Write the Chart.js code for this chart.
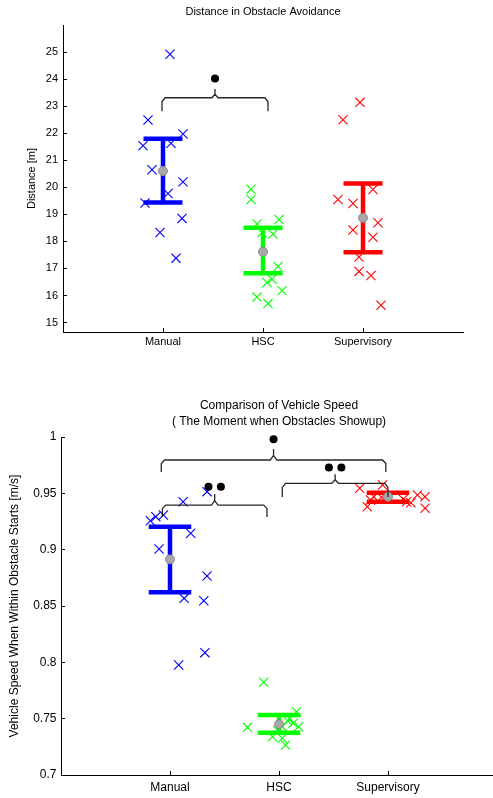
<!DOCTYPE html>
<html>
<head>
<meta charset="utf-8">
<script src="https://cdn.jsdelivr.net/npm/chart.js@4.4.0/dist/chart.umd.min.js"></script>
<style>
  html, body { margin: 0; padding: 0; background: #fff; overflow: hidden; width: 493px; height: 798px; }
  #wrapTop { position: absolute; left: 0; top: 0; }
  #wrapBottom { position: absolute; left: 0; top: 380px; }
</style>
</head>
<body>
<div id="wrapTop"><canvas id="distChart" width="493" height="360"></canvas></div>
<div id="wrapBottom"><canvas id="speedChart" width="510" height="418"></canvas></div>
<script>
// --- shared ---
const groups = ['Manual', 'HSC', 'Supervisory'];
const groupColors = ['#0000ff', '#00ff00', '#ff0000'];
const groupPos = [1, 2, 3];

// --- Distance in Obstacle Avoidance ---
const distManualX = [1.07, 0.85, 1.20, 0.80, 1.08, 0.89, 1.20, 1.05, 0.82, 1.19, 0.97, 1.13];
const distManualY = [24.92, 22.49, 21.97, 21.54, 21.63, 20.65, 20.20, 19.77, 19.42, 18.85, 18.33, 17.38];
const distHscX = [1.88, 1.88, 1.94, 2.16, 1.99, 2.10, 2.15, 2.04, 2.09, 2.19, 1.94, 2.05];
const distHscY = [19.93, 19.55, 18.64, 18.81, 18.32, 18.27, 17.07, 16.48, 16.60, 16.18, 15.94, 15.70];
const distSupX = [2.97, 2.80, 3.10, 2.75, 2.90, 3.15, 2.90, 3.10, 2.96, 2.96, 3.08, 3.18];
const distSupY = [23.14, 22.50, 19.92, 19.55, 19.40, 18.69, 18.42, 18.15, 17.42, 16.89, 16.74, 15.64];
const distMean = [20.60, 17.62, 18.87];
const distUpper = [21.79, 18.50, 20.14];
const distLower = [19.44, 16.82, 17.60];
const distTicks = [15, 16, 17, 18, 19, 20, 21, 22, 23, 24, 25];
// significance brackets
const distSigFrom = [0.99];
const distSigTo = [2.05];
const distSigLevel = [23.31];
const distSigEnd = [22.81];
const distSigTip = [23.63];
const distSigDot = [24.02];
const distSigStars = [1];

// --- Comparison of Vehicle Speed ---
const speedManualX = [1.34, 1.12, 0.82, 0.87, 0.94, 1.19, 0.90, 1.34, 1.13, 1.31, 1.32, 1.08];
const speedManualY = [0.9515, 0.9426, 0.9257, 0.9293, 0.9308, 0.9145, 0.9006, 0.8766, 0.8568, 0.8547, 0.8086, 0.7976];
const speedHscX = [1.86, 1.71, 2.16, 2.08, 2.13, 2.18, 2.03, 1.94, 2.03, 2.06, 2.10, 1.99];
const speedHscY = [0.7823, 0.7423, 0.7562, 0.7482, 0.7459, 0.7429, 0.7429, 0.7340, 0.7326, 0.7266, 0.7500, 0.7395];
const speedSupX = [2.74, 2.95, 2.81, 3.27, 3.34, 3.34, 3.21, 2.87, 2.94, 3.14, 3.17, 2.84];
const speedSupY = [0.9545, 0.9574, 0.9381, 0.9485, 0.9470, 0.9367, 0.9417, 0.9470, 0.9465, 0.9447, 0.9426, 0.9441];
const speedMean = [0.8914, 0.7450, 0.9470];
const speedUpper = [0.9204, 0.7533, 0.9506];
const speedLower = [0.8622, 0.7376, 0.9426];
const speedTicks = [0.7, 0.75, 0.8, 0.85, 0.9, 0.95, 1.0];
const speedSigFrom = [0.92, 0.93, 2.03];
const speedSigTo = [2.98, 1.89, 3.00];
const speedSigLevel = [0.9796, 0.9396, 0.9589];
const speedSigEnd = [0.9690, 0.9290, 0.9468];
const speedSigTip = [0.9894, 0.9494, 0.9670];
const speedSigDot = [0.9980, 0.9558, 0.9730];
const speedSigStars = [1, 2, 2];

const FONT = '"Liberation Sans", Arial, Helvetica, sans-serif';
const CAP = 0.195;      // half width of error bar caps (x units)
const DOT_GAP = 0.057;  // half distance between significance dots

const zip = (xs, ys) => xs.map((x, i) => ({ x, y: ys[i] }));

// curly bracket between two groups
function braceShape(x1, x2, level, end, tip) {
    const xm = (x1 + x2) / 2;
    const dx = 0.03;
    const dy = (level - end) * 0.3;
    const cusp = level + (tip - level) * 0.4;
    return [
        { x: x1, y: end }, { x: x1, y: level - dy }, { x: x1 + dx, y: level },
        { x: xm - dx, y: level }, { x: xm, y: cusp }, { x: xm, y: tip },
        { x: xm, y: cusp }, { x: xm + dx, y: level },
        { x: x2 - dx, y: level }, { x: x2, y: level - dy }, { x: x2, y: end }
    ];
}

function buildDatasets(pts, mean, upper, lower, sig) {
    const ds = [];
    // raw samples (x markers)
    pts.forEach((p, g) => {
        ds.push({
            data: p, pointStyle: 'crossRot', pointRadius: 6.5, borderColor: groupColors[g],
            backgroundColor: groupColors[g], pointBorderWidth: 1.1, order: 3, clip: false
        });
    });
    // error bars: stem + two caps
    groupPos.forEach((c, g) => {
        const segs = [
            [{ x: c, y: lower[g] }, { x: c, y: upper[g] }],
            [{ x: c - CAP, y: upper[g] }, { x: c + CAP, y: upper[g] }],
            [{ x: c - CAP, y: lower[g] }, { x: c + CAP, y: lower[g] }]
        ];
        segs.forEach(s => ds.push({
            data: s, showLine: true, borderColor: groupColors[g], borderWidth: 4.5,
            borderCapStyle: 'butt', pointRadius: 0, order: 2, clip: false
        }));
    });
    // means
    ds.push({
        data: zip(groupPos, mean), pointStyle: 'circle', pointRadius: 4.5,
        backgroundColor: '#a8a8a8', borderColor: '#8a8a8a', pointBorderWidth: 1, order: 1, clip: false
    });
    // significance brackets + dots
    const dots = [];
    sig.from.forEach((x1, i) => {
        ds.push({
            data: braceShape(x1, sig.to[i], sig.level[i], sig.end[i], sig.tip[i]),
            showLine: true, borderColor: '#262626', borderWidth: 1.3, pointRadius: 0, order: 0, clip: false
        });
        const xm = (x1 + sig.to[i]) / 2;
        for (let k = 0; k < sig.stars[i]; k++) {
            dots.push({ x: xm + (k - (sig.stars[i] - 1) / 2) * 2 * DOT_GAP, y: sig.dot[i] });
        }
    });
    ds.push({
        data: dots, pointStyle: 'circle', pointRadius: 4,
        backgroundColor: '#000', borderColor: '#000', pointBorderWidth: 0, order: 0, clip: false
    });
    return ds;
}

// title drawn over the centre of the plot area
const plotTitle = {
    id: 'plotTitle',
    afterDraw(chart, args, opts) {
        const ctx = chart.ctx;
        const a = chart.chartArea;
        ctx.save();
        ctx.font = opts.size + 'px ' + FONT;
        ctx.fillStyle = '#000';
        ctx.textAlign = 'center';
        ctx.textBaseline = 'middle';
        opts.lines.forEach((t, i) => ctx.fillText(t, (a.left + a.right) / 2, opts.y + i * opts.gap));
        ctx.restore();
    }
};

function makeChart(canvas, cfg) {
    return new Chart(canvas, {
        type: 'scatter',
        data: { datasets: buildDatasets(cfg.pts, cfg.mean, cfg.upper, cfg.lower, cfg.sig) },
        options: {
            responsive: false, animation: false, devicePixelRatio: 1,
            layout: { padding: cfg.padding },
            plugins: {
                legend: { display: false }, tooltip: { enabled: false }, title: { display: false },
                plotTitle: cfg.title
            },
            scales: {
                x: {
                    type: 'linear', min: 0, max: 4,
                    afterBuildTicks: s => { s.ticks = groupPos.map(v => ({ value: v })); },
                    afterFit: s => { s.height = cfg.xHeight; },
                    ticks: {
                        callback: v => groups[groupPos.indexOf(v)] || '', color: '#000', maxRotation: 0,
                        autoSkip: false, padding: cfg.xPad, font: { family: FONT, size: cfg.fontSize }
                    },
                    grid: { drawOnChartArea: false, drawTicks: true, tickLength: -4, color: '#000' },
                    border: { display: true, color: '#000', width: 1 }
                },
                y: {
                    type: 'linear', min: cfg.yMin, max: cfg.yMax,
                    afterBuildTicks: s => { s.ticks = cfg.yTicks.map(v => ({ value: v })); },
                    afterFit: s => { s.width = cfg.yWidth; },
                    ticks: {
                        callback: v => String(+v.toFixed(2)), color: '#000', autoSkip: false,
                        padding: cfg.yPad, font: { family: FONT, size: cfg.fontSize }
                    },
                    grid: { drawOnChartArea: false, drawTicks: true, tickLength: -4, color: '#000' },
                    border: { display: true, color: '#000', width: 1 },
                    title: {
                        display: true, text: cfg.yTitle, color: '#000',
                        font: { family: FONT, size: cfg.fontSize }, padding: { top: cfg.yTitlePad, bottom: 0 }
                    }
                }
            }
        },
        plugins: [plotTitle]
    });
}

makeChart(document.getElementById('distChart'), {
    pts: [zip(distManualX, distManualY), zip(distHscX, distHscY), zip(distSupX, distSupY)],
    mean: distMean, upper: distUpper, lower: distLower,
    sig: { from: distSigFrom, to: distSigTo, level: distSigLevel, end: distSigEnd, tip: distSigTip, dot: distSigDot, stars: distSigStars },
    yMin: 14.65, yMax: 26, yTicks: distTicks, yTitle: 'Distance [m]',
    padding: { left: 0, right: 30, top: 25, bottom: 0 },
    xHeight: 28, yWidth: 63, xPad: 7, yPad: 9, yTitlePad: 25.4, fontSize: 11,
    title: { lines: ['Distance in Obstacle Avoidance'], size: 11, y: 12, gap: 0 }
});

makeChart(document.getElementById('speedChart'), {
    pts: [zip(speedManualX, speedManualY), zip(speedHscX, speedHscY), zip(speedSupX, speedSupY)],
    mean: speedMean, upper: speedUpper, lower: speedLower,
    sig: { from: speedSigFrom, to: speedSigTo, level: speedSigLevel, end: speedSigEnd, tip: speedSigTip, dot: speedSigDot, stars: speedSigStars },
    yMin: 0.7, yMax: 1.0, yTicks: speedTicks, yTitle: 'Vehicle Speed When Within Obstacle Starts [m/s]',
    padding: { left: 0, right: 13, top: 57, bottom: 0 },
    xHeight: 23, yWidth: 61, xPad: 9, yPad: 8.5, yTitlePad: 7.8, fontSize: 12,
    title: { lines: ['Comparison of Vehicle Speed', '( The Moment when Obstacles Showup)'], size: 12, y: 26, gap: 16 }
});
</script>
</body>
</html>
